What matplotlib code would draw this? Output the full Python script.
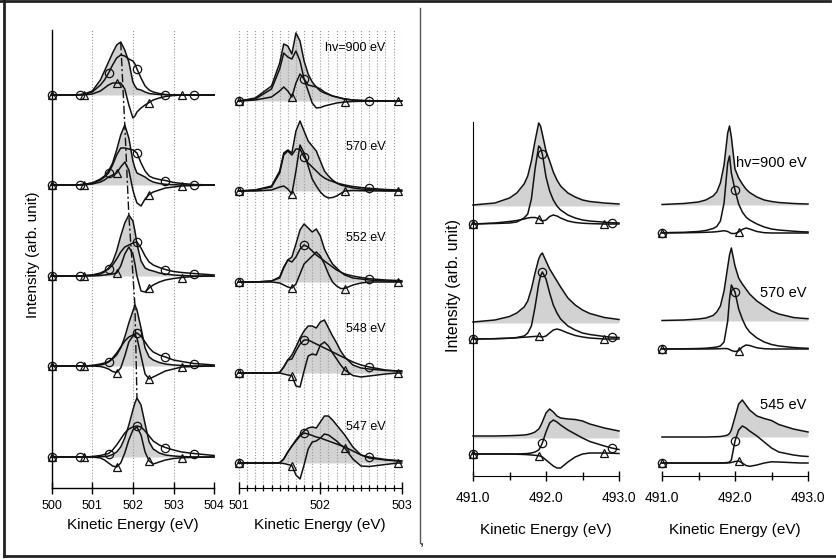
"""
Stacked XPS/Auger-like spectra, four panels (left: 500-504 eV, middle: 501-503 eV,
right pair: 491-493 eV). Curves read off the reference picture, heights in px units.
"""
import numpy as np
import matplotlib; matplotlib.use("Agg")
import matplotlib.pyplot as plt
from matplotlib.ticker import MultipleLocator, FormatStrFormatter

plt.rcParams["font.family"] = ["Liberation Sans", "DejaVu Sans"]

W, H = 837, 559
INK = "#111111"
GRAY = "#d2d2d2"
GRID = "#9a9a9a"
LW = 1.1

# ---------------- left panel (500-504 eV) ----------------
LEFT_X = [500.0, 500.5, 500.7, 500.8, 501.0, 501.2, 501.3, 501.4, 501.5, 501.6, 501.7, 501.8, 501.9,
          502.0, 502.05, 502.1, 502.2, 502.3, 502.4, 502.5, 502.65, 502.8, 503.0, 503.2, 503.5, 504.0]
LEFT_FILL = [
    [0, 0, 0.5, 1, 4, 15, 24, 33, 42, 50, 53, 45, 33, 13, 9, 6, 5, 3, 1.5, 1, 0.5, 0.3, 0, 0, 0, 0],
    [0, 0, 0.3, 0.7, 2, 6, 9, 14, 22, 35, 50, 60, 47, 24, 17, 12, 10, 8, 5, 3, 1.5, 0.7, 0.3, 0, 0, 0],
    [0, 0, 0, 0.3, 1, 2, 4, 8, 14, 25, 40, 53, 61, 55, 45, 32, 15, 8, 6, 5, 3, 2, 1, 0.5, 0, 0],
    [0, 0, 0, 0, 0.5, 1, 2, 4, 7, 11, 18, 29, 43, 55, 61, 56, 38, 18, 9, 6, 3.5, 2, 1, 0.5, 0, 0],
    [0, 0, 0, 0, 0, 0.3, 0.5, 1, 2.5, 5, 10, 19, 32, 47, 54, 59, 52, 33, 15, 8, 4, 2, 1, 0.5, 0, 0],
]
LEFT_CIRC = [
    [0, 0, 0.3, 0.7, 3, 10, 15, 22, 30, 37, 40, 39, 36, 34, 31, 26, 17, 9, 5, 3, 1.5, 0.5, 0.2, 0, 0, 0],
    [0, 0, 0.3, 0.7, 2, 5, 8, 12, 20, 30, 37, 37, 36, 35, 33.5, 32, 22, 14, 9, 7, 5.5, 4.5, 2.5, 1.5, 0.5, 0],
    [0, 0, 0, 0.3, 1, 3, 5, 7, 11, 17, 24, 29, 31, 33, 33.5, 34, 28, 20, 14, 11, 8.5, 6.5, 4.5, 3.5, 2.5, 1],
    [0, 0, 0, 0, 0.5, 2, 3, 4.5, 8, 13, 19, 25, 29, 31, 32, 33, 30, 24, 18, 14, 11, 9, 6, 4.5, 2.5, 1],
    [0, 0, 0, 0, 0.5, 1.5, 2.5, 3.5, 7, 12, 18, 24, 28, 30, 30.5, 31, 30, 26, 21, 16, 12, 9.5, 7, 5, 3.5, 1.5],
]
LEFT_TRI = [
    [0, 0, 0, 0.2, 1, 4, 7, 10, 12, 12, 12, 6, -10, -23, -21, -17, -13, -10, -7.5, -5, -3, -1.5, -0.5, 0, 0, 0],
    [0, 0, 0, 0.3, 1, 3, 5, 8, 10, 12, 18, 23, 15, -5, -12, -18, -21, -14, -9.5, -7, -5, -3, -2, -1, -0.5, 0],
    [0, 0, 0, 0, 0, 0.5, 1, 1.5, 2, 3, 10, 22, 29, 22, 12, 0, -15, -16, -12, -9, -6, -4, -2.5, -1.5, -0.5, 0],
    [0, 0, 0, 0, 0, -0.5, -1.5, -3, -5.5, -6.5, -2, 10, 24, 30, 31, 28, 10, -8, -13, -11, -8, -5, -3, -1, -0.5, 0],
    [0, 0, 0, 0, 0, -1, -3, -6, -9, -10, -6, 4, 17, 27, 28.5, 30, 22, 5, -4, -7, -5, -3, -1.5, -0.8, -0.3, 0],
]
LEFT_CIRC_AT = [500.0, 500.7, 501.4, 502.1, 502.8, 503.5]
LEFT_TRI_AT = [500.0, 500.8, 501.6, 502.4, 503.2]
LEFT_BASE = [393, 303, 212, 122, 31]

# ---------------- middle panel (501-503 eV) ----------------
MID_X = [501.0, 501.2, 501.4, 501.5, 501.55, 501.6, 501.65, 501.7, 501.75, 501.8, 501.85, 501.9, 501.95,
         502.0, 502.05, 502.1, 502.15, 502.2, 502.25, 502.3, 502.4, 502.5, 502.6, 502.8, 502.95, 503.0]
MID_FILL = [
    [0, 3, 15, 38, 57, 55, 47, 68, 60, 40, 27, 19, 14, 10, 8, 6.5, 5, 4, 3, 2, 1, 0.5, 0.3, 0, 0, 0],
    [0, 1, 5, 20, 38, 41, 38, 60, 70, 60, 50, 45, 40, 30, 20, 15, 11, 8, 6, 5, 3, 2, 1.5, 0.5, 0.3, 0],
    [0, 0, 1, 4, 14, 22, 25, 38, 52, 58, 54, 50, 53, 46, 33, 25, 18, 14, 10, 7, 4, 3, 2, 1, 0.5, 0.5],
    [0, 0, 0, 0.5, 6, 13, 18, 26, 35, 42, 47, 47, 45, 51, 53, 45, 37, 30, 22, 16, 8, 5, 4, 2.5, 2, 2],
    [0, 0, 0, 0.3, 4, 11, 17, 23, 28, 32, 35, 36, 35, 41, 47, 47, 43, 38, 33, 28, 16, 8, 5, 3, 2, 2],
]
MID_CIRC = [
    [0, 2, 12, 32, 48, 44, 42, 50, 40, 22, 16, 15, 14, 12, 9, 7, 5, 4, 3, 2, 1, 0.5, 0.3, 0, 0, 0],
    [0, 1, 4, 18, 36, 40, 36, 42, 42, 34, 28, 24, 20, 16, 13, 11, 9.5, 8, 7, 6, 4.5, 3.5, 2.7, 1.5, 1, 1],
    [0, 0, 1, 5, 15, 22, 20, 25, 33, 37, 35, 31, 27, 24, 21, 18, 15, 12, 10, 8, 6, 4.5, 3.3, 2, 1.5, 1.3],
    [0, 0, 0, 0.5, 6, 13, 14, 22, 29, 33, 33, 31, 29, 27, 25, 23, 21, 19, 17, 15, 11, 8, 6, 3, 2, 2],
    [0, 0, 0, 0.3, 4, 11, 17, 22, 27, 30, 29, 27.5, 26, 25, 23.5, 22, 20.5, 19, 17.5, 16, 12, 8, 6, 3.5, 2.5, 2],
]
MID_TRI = [
    [0, 1, 4, 10, 14, 10, 4, 18, 27, 22, 10, -2, -7, -6.5, -5, -4, -3, -2, -1.5, -1, -0.5, -0.3, 0, 0, 0, 0],
    [0, 0, 1, 4, 5, 2, -3, 20, 46, 38, 25, 12, 5, -1, -5, -7, -6.5, -5, -2.5, 0, 0.5, 0.3, 0.2, 0, 0, 0],
    [0, 0, 0, -1, -3, -5, -6, -2, 8, 18, 22, 26, 30, 26, 18, 8, 0, -4, -6.5, -6.5, -3, -1, 0, 0, 0, 0],
    [0, 0, 0, 0, -1, -2, -2.5, -13, -14, 2, 17, 19, 18, 28, 31, 27, 20, 14, 8, 3, -2.5, -4, -3, -1, 0, 0],
    [0, 0, 0, 0, -0.5, -1.5, -2.5, -12, -16, -2, 14, 21, 22, 25, 29, 28, 25, 22, 18, 15, 4, -3, -3.5, -1.5, 0, 0],
]
MID_CIRC_AT = [501.0, 501.8, 502.6]
MID_TRI_AT = [501.0, 501.65, 502.3, 502.95]
MID_BASE = [387, 297, 206, 115, 25]
MID_LABELS = ["hv=900 eV", "570 eV", "552 eV", "548 eV", "547 eV"]

# ---------------- right pair (491-493 eV) ----------------
RIGHT_X = [491.0, 491.3, 491.5, 491.6, 491.7, 491.75, 491.8, 491.85, 491.9, 491.925, 491.95, 492.0,
           492.05, 492.1, 492.15, 492.2, 492.3, 492.4, 492.5, 492.6, 492.8, 492.9, 493.0]
RA_FILL = [
    [1, 3, 8, 13, 22, 30, 45, 65, 83, 80, 72, 55, 45, 34, 26, 20, 13, 9, 6, 4.5, 3, 2.5, 2],
    [1, 3, 6.5, 10, 16, 22, 34, 50, 64, 68, 70, 62, 54, 48, 42, 36, 25, 18, 13, 9.5, 5.5, 4.5, 3.5],
    [2, 2, 2.3, 2.6, 3, 3.5, 4.5, 6, 9, 12, 16, 25, 29, 26, 22, 20, 19, 18.5, 17, 14, 10, 8.5, 7],
]
RA_CIRC = [
    [0, 0.5, 1, 2, 6, 10, 25, 55, 78, 76, 70, 47, 33, 24, 18, 14, 9, 6, 4, 3, 1.8, 1.3, 1],
    [0, 0.3, 0.8, 1.5, 3, 6, 13, 32, 55, 63, 67, 60, 46, 34, 26, 20, 13, 9, 6, 4.5, 2.5, 1.8, 1.5],
    [0, 0, 0, 0, 0.3, 0.5, 1, 2, 4, 7, 11, 22, 31, 34, 32, 29, 24, 20, 16, 12.5, 8, 6, 4.5],
]
RA_TRI = [
    [0, 1, 2.5, 3.5, 5, 6, 6.5, 6.5, 5.5, 4, 3, 4, 7.5, 9, 8, 6, 3, 1.5, 0.8, 0.4, 0, 0, 0],
    [0, 0.3, 0.8, 1.2, 1.8, 2, 2.3, 2.6, 2.7, 2.3, 2, 3, 6, 9, 10, 9, 6, 3.5, 2, 1, 0, 0, 0],
    [0, 0, 0, -0.2, -0.5, -0.7, -1, -1.3, -1.7, -2.2, -3, -6, -9, -12, -14, -14, -8, -3, 0, 1, 1, 0.8, 0.5],
]
RA_CIRC_AT = [491.0, 491.95, 492.9]
RA_TRI_AT = [491.0, 491.9, 492.8]
RA_FILL_BASE = [270, 153, 38]
RA_BASE = [252, 137, 22]

RB_FILL = [
    [0.5, 1.5, 3, 5, 9, 13, 22, 40, 72, 79, 68, 36, 27, 21, 16, 12.5, 8, 5, 3.5, 2.5, 1.5, 1.2, 1],
    [0.5, 1, 2, 3, 5.5, 9, 15, 30, 54, 66, 73, 55, 43, 37, 32, 27, 20, 15, 10, 7, 3.5, 2.8, 2.3],
    [0, 0, 0, 0, 0.2, 0.3, 0.5, 1, 2, 3.5, 7, 20, 33, 37, 32, 27, 21, 18.5, 16.5, 12.5, 8, 6.5, 5],
]
RB_CIRC = [
    [0.3, 0.7, 1.5, 2.5, 4.5, 6.5, 12, 30, 70, 77, 60, 43, 29, 21, 16, 13, 9, 6, 4, 3, 1.8, 1.3, 1],
    [0, 0.2, 0.5, 0.8, 1.5, 2, 3, 7, 28, 50, 64, 57, 40, 30, 22, 17, 11, 7, 4.5, 3, 1.5, 1, 0.7],
    [0, 0, 0, 0, 0, 0, 0, 0.2, 0.5, 1, 3, 22, 33, 37, 35, 32, 27, 21, 15, 11, 8, 7, 6.5],
]
RB_TRI = [
    [0, 0.2, 0.5, 0.7, 1, 1.3, 1.8, 2.3, 1.5, 0.5, -0.5, -0.5, 1, 3.5, 5, 4, 1.5, 0.3, 0, 0, 0, 0, 0],
    [0, 0, 0, 0, 0.1, 0.2, 0.3, 0.5, 0.3, -0.5, -1.5, -2.5, -1.8, 2, 4, 3.5, 1.2, 0.3, 0, 0, 0, 0, 0],
    [0, 0, 0, 0, 0, 0, 0, 0, 0, 0.2, 0.5, 1.5, 2, 0, -2.5, -3.3, -2, 0, 1.2, 1, 0.3, 0, 0],
]
RB_CIRC_AT = [491.0, 492.0]
RB_TRI_AT = [491.0, 492.05]
RB_FILL_BASE = [271, 155, 39]
RB_BASE = [243, 127, 13]
RB_LABELS = ["hv=900 eV", "570 eV", "545 eV"]


def px_axes(fig, x0, x1, y_top, y_bot):
    """axes placed by pixel edges of the 837x559 canvas"""
    ax = fig.add_axes([x0/W, 1 - y_bot/H, (x1 - x0)/W, (y_bot - y_top)/H])
    ax.set_facecolor("none")
    for s in ("top", "right"):
        ax.spines[s].set_visible(False)
    ax.set_yticks([])
    return ax


def draw_stack(ax, x, fills, circs, tris, circ_at, tri_at, bases, fill_bases=None):
    x = np.array(x)
    ci = [list(x).index(v) for v in circ_at]
    ti = [list(x).index(v) for v in tri_at]
    for i, b in enumerate(bases):
        fb = fill_bases[i] if fill_bases else b
        yf = fb + np.array(fills[i])
        ax.fill_between(x, fb, yf, color=GRAY, lw=0, zorder=1)
        ax.plot(x, yf, color=INK, lw=LW, zorder=3, clip_on=False)
        ax.plot(x, b + np.array(circs[i]), color=INK, lw=LW, marker="o", ms=6, mfc="none",
                mec=INK, mew=0.9, markevery=ci, zorder=4, clip_on=False)
        ax.plot(x, b + np.array(tris[i]), color=INK, lw=LW, marker="^", ms=6, mfc="none",
                mec=INK, mew=0.9, markevery=ti, zorder=4, clip_on=False)


fig = plt.figure(figsize=(W/100, H/100), dpi=100)

# left
axL = px_axes(fig, 51.7, 214.1, 30, 488)
axL.set_xlim(500, 504); axL.set_ylim(0, 458)
draw_stack(axL, LEFT_X, LEFT_FILL, LEFT_CIRC, LEFT_TRI, LEFT_CIRC_AT, LEFT_TRI_AT, LEFT_BASE)
pk = [int(np.argmax(f)) for f in LEFT_FILL]
axL.plot([LEFT_X[k] for k in pk], [b + f[k] for b, f, k in zip(LEFT_BASE, LEFT_FILL, pk)],
         color=INK, lw=1.0, ls=(0, (6, 2, 1.5, 2)), zorder=5)
axL.set_xticks([500, 501, 502, 503, 504])
axL.tick_params(axis="x", direction="inout", length=9, width=1, labelsize=9, pad=4)
axL.grid(axis="x", ls=":", color=GRID, lw=0.8)
for s in ("left", "bottom"):
    axL.spines[s].set_linewidth(1.0)

# middle
axM = px_axes(fig, 239, 401.7, 30, 488)
axM.set_xlim(501, 503); axM.set_ylim(0, 458)
axM.spines["left"].set_visible(False)
draw_stack(axM, MID_X, MID_FILL, MID_CIRC, MID_TRI, MID_CIRC_AT, MID_TRI_AT, MID_BASE)
axM.set_xticks([501, 502, 503])
axM.xaxis.set_minor_locator(MultipleLocator(0.1))
axM.tick_params(axis="x", which="major", direction="inout", length=9, width=1, labelsize=9, pad=4)
axM.tick_params(axis="x", which="minor", direction="inout", length=5, width=0.9)
axM.grid(axis="x", which="both", ls=":", color=GRID, lw=0.8)
for lab, b, dy in zip(MID_LABELS, MID_BASE, [53, 44, 44, 44, 36]):
    axM.text(502.8, b + dy, lab, ha="right", va="center", fontsize=9)

# right pair
axA = px_axes(fig, 473, 619, 122, 476)
axB = px_axes(fig, 662, 808, 122, 476)
axB.spines["left"].set_visible(False)
for ax in (axA, axB):
    ax.set_xlim(491, 493); ax.set_ylim(0, 354)
    ax.set_xticks([491, 492, 493])
    ax.xaxis.set_major_formatter(FormatStrFormatter("%.1f"))
    ax.xaxis.set_minor_locator(MultipleLocator(0.5))
    ax.tick_params(axis="x", which="major", direction="inout", length=7, width=1, labelsize=10, pad=7)
    ax.tick_params(axis="x", which="minor", direction="inout", length=6, width=1)
draw_stack(axA, RIGHT_X, RA_FILL, RA_CIRC, RA_TRI, RA_CIRC_AT, RA_TRI_AT, RA_BASE, RA_FILL_BASE)
draw_stack(axB, RIGHT_X, RB_FILL, RB_CIRC, RB_TRI, RB_CIRC_AT, RB_TRI_AT, RB_BASE, RB_FILL_BASE)
for lab, b, dy in zip(RB_LABELS, RB_FILL_BASE, [42, 28, 32]):
    axB.text(492.98, b + dy, lab, ha="right", va="center", fontsize=10.5)

# overlay in pixel coords: frame, divider, axis titles
ov = fig.add_axes([0, 0, 1, 1])
ov.set_xlim(0, W); ov.set_ylim(H, 0); ov.axis("off")
ov.plot([0, 830], [1, 1], color="#222222", lw=2)
ov.plot([4, 4], [0, 556], color="#222222", lw=2)
ov.plot([4, W], [556, 556], color="#222222", lw=2)
ov.plot([420, 420], [8, 543], color="#555555", lw=1)
ov.text(422, 541, ",", fontsize=11, ha="center", va="center")
ov.text(33, 255, "Intensity (arb. unit)", rotation=90, ha="center", va="center", fontsize=11)
ov.text(454, 285, "Intensity (arb. unit)", rotation=90, ha="center", va="center", fontsize=11.5)
ov.text(133, 525, "Kinetic Energy (eV)", ha="center", va="center", fontsize=11)
ov.text(320, 525, "Kinetic Energy (eV)", ha="center", va="center", fontsize=11)
ov.text(546, 530, "Kinetic Energy (eV)", ha="center", va="center", fontsize=11)
ov.text(735, 530, "Kinetic Energy (eV)", ha="center", va="center", fontsize=11)

fig.savefig("out.png", dpi=100)
